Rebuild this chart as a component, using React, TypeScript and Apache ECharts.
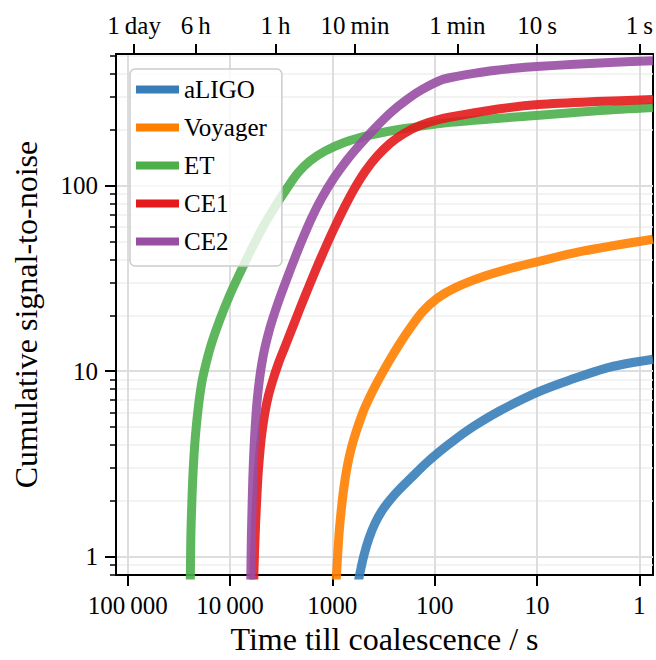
import React, { useEffect, useRef } from 'react';
import * as echarts from 'echarts';

// ---- Data (time till coalescence in s, cumulative SNR) ----
const detectorNames = ['aLIGO', 'Voyager', 'ET', 'CE1', 'CE2'];
const detectorColors = ['#377eb8', '#ff7f00', '#4daf4a', '#e41a1c', '#984ea3'];

const aligoTime = [588, 537, 491, 439, 383.7, 327, 267.4, 218.4, 166.7, 124.4, 88.8, 63.3, 40.4, 23.0, 10.2, 4.76, 1.934, 0.735];
const aligoSnr = [0.621, 0.814, 1.016, 1.253, 1.506, 1.767, 2.048, 2.317, 2.685, 3.15, 3.70, 4.28, 5.09, 6.12, 7.64, 8.96, 10.52, 11.6];

const voyagerTime = [928.5, 907.8, 846.7, 749.8, 646.1, 506.8, 430.0, 353.5, 282.2, 224.4, 171.6, 131.0, 92.84, 61.91, 34.5, 18.36, 10.23, 3.8, 0.735];
const voyagerSnr = [0.621, 0.814, 1.47, 2.62, 3.932, 5.922, 7.27, 8.964, 11.19, 13.79, 17.2, 20.94, 24.88, 28.31, 32.22, 35.77, 38.73, 44.08, 51.41];

const etTime = [24496, 24385, 24110, 23570, 22790, 21790, 20370, 18820, 17010, 15030, 12550, 10020, 7826, 5972, 4558, 3479, 2716, 2169, 1656, 1181, 753, 429, 218.4, 70.9, 10.2, 2.42, 0.735];
const etSnr = [0.621, 0.814, 1.30, 2.00, 3.07, 4.45, 6.43, 8.74, 11.19, 14.3, 18.98, 25.82, 34.67, 47.17, 62.6, 80.1, 98.6, 117.2, 135.8, 153.6, 171.6, 187.1, 201.4, 219.5, 239.2, 254.3, 263.9];

const ce1Time = [5866, 5840, 5631, 5349, 5149, 4899, 4569, 4242, 3807, 3357, 2920, 2449, 2055, 1717, 1427, 1176, 960.3, 773.6, 609.4, 473.6, 364.0, 271.6, 198.3, 138.3, 89.78, 54.09, 24.06, 9.67, 2.68, 0.735];
const ce1Snr = [0.621, 0.814, 1.47, 2.62, 3.476, 4.557, 5.922, 7.27, 8.964, 11.05, 13.45, 17.2, 22.0, 28.13, 35.98, 46.02, 58.87, 75.27, 96.27, 120.1, 144.4, 169.5, 191.7, 211.5, 227.8, 240.7, 259.2, 273.8, 284.1, 291.2];

const ce2Time = [6278, 6249, 6178, 5986, 5813, 5559, 5385, 5160, 4878, 4549, 4111, 3656, 3181, 2760, 2326, 1943, 1601, 1278, 975.4, 705.6, 550.8, 392.9, 268.1, 186.9, 133.4, 85.04, 60.53, 41.29, 26.32, 16.41, 10.07, 4.25, 1.728, 0.735];
const ce2Snr = [0.621, 0.814, 1.30, 2.62, 3.932, 5.922, 7.27, 8.964, 11.05, 13.45, 16.79, 20.69, 25.82, 31.82, 40.7, 52.04, 66.56, 85.11, 108.9, 139.2, 163.9, 201.4, 248.2, 291.2, 329.3, 372.4, 388.8, 403.5, 418.2, 429.6, 438.7, 451.8, 463.6, 472.2];

const seriesTimes = [aligoTime, voyagerTime, etTime, ce1Time, ce2Time];
const seriesSnrs = [aligoSnr, voyagerSnr, etSnr, ce1Snr, ce2Snr];

const bottomTickValues = [100000, 10000, 1000, 100, 10, 1];
const bottomTickLabels = ['100\u2009000', '10\u2009000', '1000', '100', '10', '1'];
const topTickValues = [86400, 21600, 3600, 600, 60, 10, 1];
const topTickLabels = ['1\u2009day', '6\u2009h', '1\u2009h', '10\u2009min', '1\u2009min', '10\u2009s', '1\u2009s'];
const yTickValues = [1, 10, 100];
const yTickLabels = ['1', '10', '100'];

const X_MIN = 0.735;
const X_MAX = 130000;
const Y_MIN = 0.795;
const Y_MAX = 513;

const FONT = "'Liberation Serif', 'DejaVu Serif', serif";

function lookup(values: number[], labels: string[]) {
  return (v: number) => {
    for (let i = 0; i < values.length; i++) {
      if (Math.abs(v - values[i]) / values[i] < 1e-6) return labels[i];
    }
    return '';
  };
}

export default function App() {
  const ref = useRef<HTMLDivElement>(null);

  useEffect(() => {
    if (!ref.current) return;
    const chart = echarts.init(ref.current, null, { renderer: 'svg' });

    const series = detectorNames.map((name, i) => ({
      name,
      type: 'line',
      data: seriesTimes[i].map((t, j) => [t, seriesSnrs[i][j]]),
      showSymbol: false,
      symbol: 'none',
      smooth: 0.3,
      clip: true,
      color: detectorColors[i],
      lineStyle: { width: 9, color: detectorColors[i], opacity: 0.9, cap: 'butt', join: 'round' },
      xAxisIndex: 0,
      yAxisIndex: 0,
    }));

    const option: any = {
      animation: false,
      backgroundColor: '#ffffff',
      grid: {
        left: 116,
        right: 3,
        top: 54,
        bottom: 80,
        show: true,
        borderColor: '#000',
        borderWidth: 2,
        containLabel: false,
      },
      legend: {
        data: detectorNames,
        left: 130,
        top: 69,
        orient: 'vertical',
        icon: 'rect',
        itemWidth: 43,
        itemHeight: 8,
        itemGap: 13,
        padding: [8, 15, 12, 6],
        backgroundColor: 'rgba(255,255,255,0.8)',
        borderColor: '#cccccc',
        borderWidth: 1.5,
        borderRadius: 5,
        textStyle: { fontSize: 25, fontFamily: FONT, color: '#000' },
      },
      xAxis: [
        {
          type: 'log',
          logBase: 10,
          inverse: true,
          min: X_MIN,
          max: X_MAX,
          position: 'bottom',
          name: 'Time till coalescence / s',
          nameLocation: 'middle',
          nameGap: 42,
          nameTextStyle: { fontSize: 32, fontFamily: FONT, color: '#000' },
          axisLine: { show: true, lineStyle: { color: '#000', width: 2 } },
          axisTick: {
            show: true,
            length: 11,
            customValues: bottomTickValues,
            lineStyle: { color: '#000', width: 2 },
          },
          axisLabel: {
            customValues: bottomTickValues,
            formatter: lookup(bottomTickValues, bottomTickLabels),
            fontSize: 25,
            fontFamily: FONT,
            color: '#000',
            margin: 18,
          },
          splitLine: { show: true, lineStyle: { color: '#dddddd', width: 2 } },
          minorTick: { show: false },
          minorSplitLine: { show: false },
        },
        {
          type: 'log',
          logBase: 10,
          inverse: true,
          min: X_MIN,
          max: X_MAX,
          position: 'top',
          axisLine: { show: true, lineStyle: { color: '#000', width: 2 } },
          axisTick: {
            show: true,
            length: 10,
            customValues: topTickValues,
            lineStyle: { color: '#000', width: 2 },
          },
          axisLabel: {
            customValues: topTickValues,
            formatter: lookup(topTickValues, topTickLabels),
            fontSize: 25,
            fontFamily: FONT,
            color: '#000',
            margin: 16,
          },
          splitLine: { show: false },
          minorTick: { show: false },
          minorSplitLine: { show: false },
        },
      ],
      yAxis: [
        {
          type: 'log',
          logBase: 10,
          min: Y_MIN,
          max: Y_MAX,
          name: 'Cumulative signal-to-noise',
          nameLocation: 'middle',
          nameGap: 74,
          nameTextStyle: { fontSize: 32, fontFamily: FONT, color: '#000' },
          axisLine: { show: true, lineStyle: { color: '#000', width: 2 } },
          axisTick: {
            show: true,
            length: 11,
            customValues: yTickValues,
            lineStyle: { color: '#000', width: 2 },
          },
          minorTick: {
            show: true,
            splitNumber: 9,
            length: 6,
            lineStyle: { color: '#000', width: 1.5 },
          },
          minorSplitLine: { show: true, lineStyle: { color: '#efefef', width: 1.5 } },
          axisLabel: {
            customValues: yTickValues,
            formatter: lookup(yTickValues, yTickLabels),
            fontSize: 25,
            fontFamily: FONT,
            color: '#000',
            margin: 18,
          },
          splitLine: { show: true, lineStyle: { color: '#dddddd', width: 2 } },
        },
      ],
      series,
    };

    chart.setOption(option);
    return () => chart.dispose();
  }, []);

  return (
    <div
      ref={ref}
      style={{ position: 'absolute', left: 0, top: 0, width: 656, height: 660 }}
    />
  );
}
